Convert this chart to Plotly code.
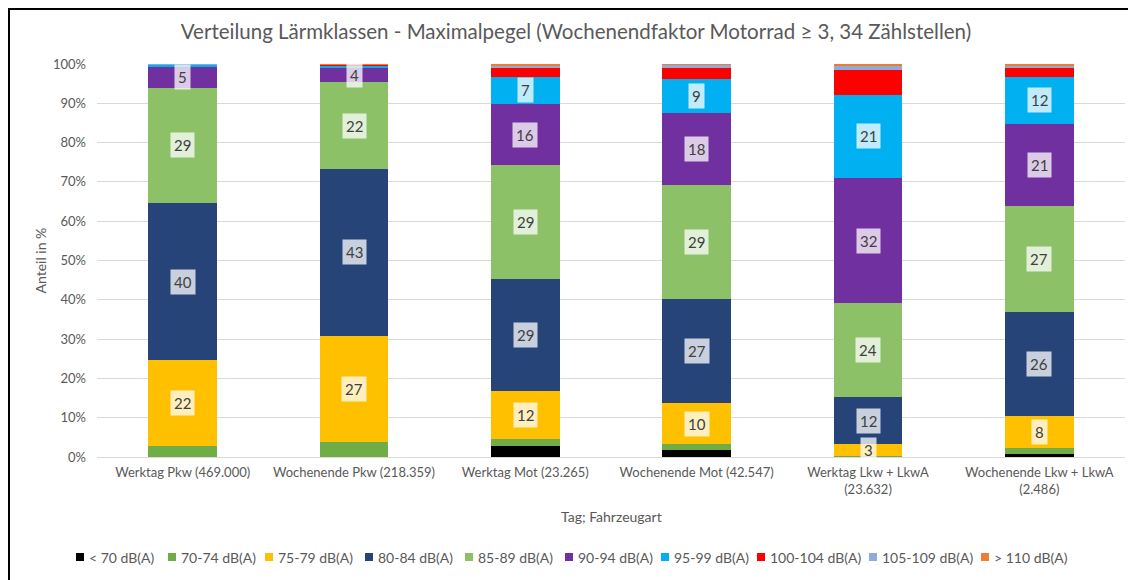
import plotly.graph_objects as go

# ---- data ----
categories = [
    "Werktag Pkw (469.000)",
    "Wochenende Pkw (218.359)",
    "Werktag Mot (23.265)",
    "Wochenende Mot (42.547)",
    "Werktag Lkw + LkwA<br>(23.632)",
    "Wochenende Lkw + LkwA<br>(2.486)",
]
series_names = ["< 70 dB(A)", "70-74 dB(A)", "75-79 dB(A)", "80-84 dB(A)", "85-89 dB(A)",
                "90-94 dB(A)", "95-99 dB(A)", "100-104 dB(A)", "105-109 dB(A)", "> 110 dB(A)"]
lt70 = [0.0, 0.0, 2.8, 1.8, 0.0, 0.8]
c70_74 = [2.9, 3.8, 1.8, 1.5, 0.2, 1.5]
c75_79 = [21.8, 27.1, 12.2, 10.4, 3.1, 8.1]
c80_84 = [39.9, 42.6, 28.6, 26.6, 11.9, 26.3]
c85_89 = [29.4, 22.0, 28.8, 29.0, 23.9, 27.0]
c90_94 = [5.3, 3.6, 15.6, 18.3, 32.0, 20.9]
c95_99 = [0.5, 0.6, 7.0, 8.6, 21.2, 11.9]
c100_104 = [0.1, 0.3, 2.4, 2.9, 6.3, 2.5]
c105_109 = [0.1, 0.1, 0.5, 0.7, 1.2, 0.5]
gt110 = [0.0, 0.1, 0.3, 0.2, 0.3, 0.3]
y_ticks = [0, 10, 20, 30, 40, 50, 60, 70, 80, 90, 100]
y_tick_labels = [f"{v}%" for v in y_ticks]

series_values = [lt70, c70_74, c75_79, c80_84, c85_89, c90_94, c95_99, c100_104, c105_109, gt110]

# ---- styles ----
colors = ["#000000", "#70AD47", "#FFC000", "#264478", "#8CC168", "#7030A0",
          "#00B0F0", "#FF0000", "#8FAADC", "#ED7D31"]
labelled = {2, 3, 4, 5, 6}
# legend swatch left edges in page pixels (layout only)
legend_px = [76, 168, 265, 365, 465, 565, 661, 757, 869, 981]

FONT = "Lato, sans-serif"
GRAY = "#595959"
PLOT_L, PLOT_W, PLOT_B, PLOT_H = 97, 1028, 457, 393


def px_to_paper_x(px):
    return (px - PLOT_L) / PLOT_W


def px_to_paper_y(py):
    return (PLOT_B - py) / PLOT_H


fig = go.Figure()
for name, vals, col in zip(series_names, series_values, colors):
    fig.add_trace(go.Bar(name=name, x=categories, y=vals, marker_color=col,
                         marker_line_width=0, showlegend=False))

# data labels (boxes) via annotations
annotations = []
totals = [sum(s[i] for s in series_values) for i in range(len(categories))]
for i, cat in enumerate(categories):
    cum = 0.0
    for k, vals in enumerate(series_values):
        v = vals[i]
        if k in labelled and v >= 3:
            mid = (cum + v / 2) / totals[i] * 100
            annotations.append(dict(
                x=cat, y=mid, xref="x", yref="y", text=str(int(round(v))),
                showarrow=False, bgcolor="rgba(255,255,255,0.75)", borderpad=3,
                font=dict(family=FONT, size=15, color="#404040")))
        cum += v

# axis titles
annotations.append(dict(text="Anteil in %", xref="paper", yref="paper", x=px_to_paper_x(40), y=0.5,
                        xanchor="center", yanchor="middle",
                        textangle=-90, showarrow=False,
                        font=dict(family=FONT, size=14, color=GRAY)))
annotations.append(dict(text="Tag; Fahrzeugart", xref="paper", yref="paper", x=0.5,
                        y=px_to_paper_y(516),
                        showarrow=False, xanchor="center", yanchor="middle",
                        font=dict(family=FONT, size=14, color=GRAY)))

# legend (swatch + text)
shapes = []
ly = 557
for name, col, lx in zip(series_names, colors, legend_px):
    shapes.append(dict(type="rect", xref="paper", yref="paper",
                       x0=px_to_paper_x(lx), x1=px_to_paper_x(lx + 8),
                       y0=px_to_paper_y(ly + 4), y1=px_to_paper_y(ly - 4),
                       fillcolor=col, line=dict(width=0)))
    annotations.append(dict(text=name, xref="paper", yref="paper",
                            x=px_to_paper_x(lx + 11), y=px_to_paper_y(ly),
                            xanchor="left", yanchor="middle", showarrow=False,
                            font=dict(family=FONT, size=14, color=GRAY)))

# chart frame (left and top edge)
shapes.append(dict(type="line", xref="paper", yref="paper", x0=px_to_paper_x(9), x1=px_to_paper_x(9),
                   y0=px_to_paper_y(585), y1=px_to_paper_y(7), line=dict(color="black", width=2)))
shapes.append(dict(type="line", xref="paper", yref="paper", x0=px_to_paper_x(8), x1=px_to_paper_x(1140),
                   y0=px_to_paper_y(9), y1=px_to_paper_y(9), line=dict(color="black", width=2)))

fig.update_layout(
    width=1128, height=572,
    margin=dict(l=89, r=11, t=56, b=123, autoexpand=False),
    barmode="stack", barnorm="percent", bargap=0.6,
    plot_bgcolor="white", paper_bgcolor="white",
    title=dict(text="Verteilung Lärmklassen - Maximalpegel (Wochenendfaktor Motorrad ≥ 3, 34 Zählstellen)",
               x=0.5035, xref="container", y=0.958, yref="container", xanchor="center",
               yanchor="middle", font=dict(family=FONT, size=20.5, color=GRAY)),
    font=dict(family=FONT, size=13, color=GRAY),
    showlegend=False,
    annotations=annotations,
    shapes=shapes,
)
fig.update_xaxes(showgrid=False, showline=False, ticks="", ticklabelstandoff=6,
                 tickfont=dict(family=FONT, size=13, color=GRAY))
fig.update_yaxes(range=[0, 100], tickvals=y_ticks, ticktext=y_tick_labels, showgrid=True,
                 gridcolor="#D9D9D9", gridwidth=1, zeroline=True, zerolinecolor="#D9D9D9",
                 zerolinewidth=1, showline=False, ticks="", ticklabelstandoff=10,
                 tickfont=dict(family=FONT, size=13, color=GRAY))

fig.write_html("out.html")
